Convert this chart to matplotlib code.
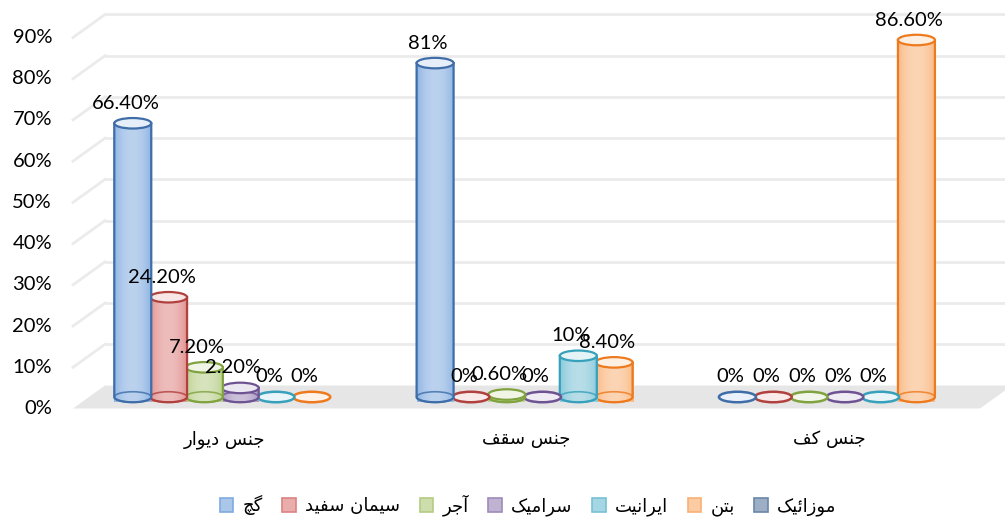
import numpy as np
import matplotlib
matplotlib.use('Agg')
from matplotlib import pyplot as plt
from matplotlib.patches import Ellipse, Polygon, Patch
from matplotlib.colors import to_rgb

# categories and series (percent)
categories = ['جنس دیوار', 'جنس سقف', 'جنس کف']
series = ['گچ', 'سیمان سفید', 'آجر', 'سرامیک', 'ایرانیت', 'بتن', 'موزائیک']
gach = [66.4, 81.0, 0.0]
siman_sefid = [24.2, 0.0, 0.0]
ajor = [7.2, 0.6, 0.0]
seramik = [2.2, 0.0, 0.0]
iranit = [0.0, 10.0, 0.0]
beton = [0.0, 8.4, 86.6]
mozaik = [None, None, None]
yticks = [0, 10, 20, 30, 40, 50, 60, 70, 80, 90]

values = [gach, siman_sefid, ajor, seramik, iranit, beton, mozaik]
colors = ['#558ED5', '#D25A57', '#9BBB59', '#8064A2', '#4BACC6', '#F79646', '#3A5F8B']
edges = ['#3E6DA8', '#B0413E', '#80A33F', '#6E5393', '#37A0BA', '#EE7A1E', '#3A5F8B']

# --- minimal persian shaping (matplotlib has no complex text layout) ---
FORMS = {  # isolated, final, initial, medial
    'ا': ('\uFE8D', '\uFE8E', None, None),
    'آ': ('\uFE81', '\uFE82', None, None),
    'ب': ('\uFE8F', '\uFE90', '\uFE91', '\uFE92'),
    'ت': ('\uFE95', '\uFE96', '\uFE97', '\uFE98'),
    'ج': ('\uFE9D', '\uFE9E', '\uFE9F', '\uFEA0'),
    'د': ('\uFEA9', '\uFEAA', None, None),
    'ر': ('\uFEAD', '\uFEAE', None, None),
    'ز': ('\uFEAF', '\uFEB0', None, None),
    'س': ('\uFEB1', '\uFEB2', '\uFEB3', '\uFEB4'),
    'ف': ('\uFED1', '\uFED2', '\uFED3', '\uFED4'),
    'ق': ('\uFED5', '\uFED6', '\uFED7', '\uFED8'),
    'م': ('\uFEE1', '\uFEE2', '\uFEE3', '\uFEE4'),
    'ن': ('\uFEE5', '\uFEE6', '\uFEE7', '\uFEE8'),
    'و': ('\uFEED', '\uFEEE', None, None),
    'ئ': ('\uFE89', '\uFE8A', '\uFE8B', '\uFE8C'),
    'چ': ('\uFB7A', '\uFB7B', '\uFB7C', '\uFB7D'),
    'ک': ('\uFB8E', '\uFB8F', '\uFB90', '\uFB91'),
    'گ': ('\uFB92', '\uFB93', '\uFB94', '\uFB95'),
    'ی': ('\uFBFC', '\uFBFD', '\uFBFE', '\uFBFF'),
}


def shape(text):
    words = []
    for word in text.split(' '):
        out = []
        for i, ch in enumerate(word):
            f = FORMS[ch]
            joined_before = i > 0 and FORMS[word[i - 1]][2] is not None
            joins_after = f[2] is not None and i < len(word) - 1
            if joined_before and joins_after:
                out.append(f[3])
            elif joined_before:
                out.append(f[1])
            elif joins_after:
                out.append(f[2])
            else:
                out.append(f[0])
        words.append(''.join(reversed(out)))
    return ' '.join(reversed(words))


def tint(c, amount):
    c = np.array(to_rgb(c))
    return tuple(c + (1 - c) * amount)


NUM_FONT = 'Lato'
FA_FONT = ['DejaVu Sans']

fig = plt.figure(figsize=(10.05, 5.19), dpi=100)
ax = fig.add_axes([89 / 1005, 122 / 519, 907 / 1005, 371 / 519])
ax.axis('off')
xmin, xmax, ymin, ymax = -0.5, 2.5, 0, 90

# pixel -> data units, and half-depth of the 3d box
px_x = (xmax - xmin) / 907
px_y = (ymax - ymin) / 371
DX, DY = 16 * px_x, 11.5 * px_y

grid_c = '#EBEBEB'
# floor
ax.add_patch(Polygon([(xmin - DX, -DY), (xmax - DX, -DY), (xmax + DX, DY), (xmin + DX, DY)],
                     closed=True, facecolor='#E6E6E6', edgecolor='none', zorder=1,
                     clip_on=False))
# back wall and side wall grid
for v in yticks:
    if v > 0:
        ax.plot([xmin + DX, xmax + 0.2], [v + DY, v + DY], color=grid_c, lw=2, zorder=1,
                clip_on=False, solid_capstyle='butt')
        ax.plot([xmin - DX, xmin + DX], [v - DY, v + DY], color=grid_c, lw=2,
                zorder=1, clip_on=False)
    ax.text(xmin - DX - 21 * px_x, v - DY, f'{v}%', ha='right', va='center',
            fontsize=14.5, family=NUM_FONT, color='#000000')

# cylinders
nser = len(series)
step = 35.8 * px_x
w = 37 * px_x
eh = 10.5 * px_y
theta = np.linspace(np.pi, 2 * np.pi, 40)
t = np.linspace(0, 1, 64)
shade = 0.32 + 0.28 * np.sin(np.pi * t) ** 0.7

for j in range(nser):
    for i in range(len(categories)):
        v = values[j][i]
        if v is None:
            continue
        xc = i + (j - (nser - 1) / 2) * step
        z = 20 + 10 * (nser - j)
        c, ec = colors[j], edges[j]
        if v > 0:
            grad = np.array([[tint(c, s) for s in shade]])
            im = ax.imshow(grad, extent=[xc - w / 2, xc + w / 2, -eh / 2, v], aspect='auto',
                           interpolation='bilinear', zorder=z, clip_on=False)
            body = list(zip(xc + w / 2 * np.cos(theta), eh / 2 * np.sin(theta)))
            body += [(xc + w / 2, v), (xc - w / 2, v)]
            clip = Polygon(body, closed=True, transform=ax.transData)
            im.set_clip_path(clip)
            ax.add_patch(Polygon(body, closed=True, facecolor='none', edgecolor=ec, lw=1.6,
                                 zorder=z + 1, clip_on=False))
            ax.add_patch(Ellipse((xc, 0), w, eh, facecolor='none', edgecolor=ec, lw=1.2,
                                 alpha=0.8, zorder=z + 2, clip_on=False))
            ax.add_patch(Ellipse((xc, v), w, eh, facecolor=tint(c, 0.85), edgecolor=ec, lw=1.6,
                                 zorder=z + 3, clip_on=False))
        else:
            ax.add_patch(Ellipse((xc, 0), w, eh, facecolor=tint(c, 0.88), edgecolor=ec, lw=1.8,
                                 zorder=z, clip_on=False))
        label = f'{v:.0f}%' if float(v).is_integer() else f'{v:.2f}%'
        ax.annotate(label, (xc, v), xytext=(-7, 20), textcoords='offset pixels',
                    ha='center', va='center', fontsize=14.5, family=NUM_FONT,
                    zorder=200, annotation_clip=False)

for i, name in enumerate(categories):
    ax.text(i - DX, -DY - 31 * px_y, shape(name), ha='center', va='center',
            fontsize=13, family=FA_FONT)

handles = [Patch(facecolor=tint(c, 0.5), edgecolor=tint(c, 0.25), lw=1.2) for c in colors]
fig.legend(handles, [shape(s) for s in series], loc='center', ncol=nser,
           bbox_to_anchor=(528 / 1005, 1 - 505 / 519), frameon=False,
           prop={'family': FA_FONT, 'size': 13}, handlelength=0.75, handleheight=0.75,
           handletextpad=0.5, columnspacing=1.1)

ax.set_xlim(xmin, xmax)
ax.set_ylim(ymin, ymax)
fig.savefig('out.png', dpi=100, facecolor='white')
